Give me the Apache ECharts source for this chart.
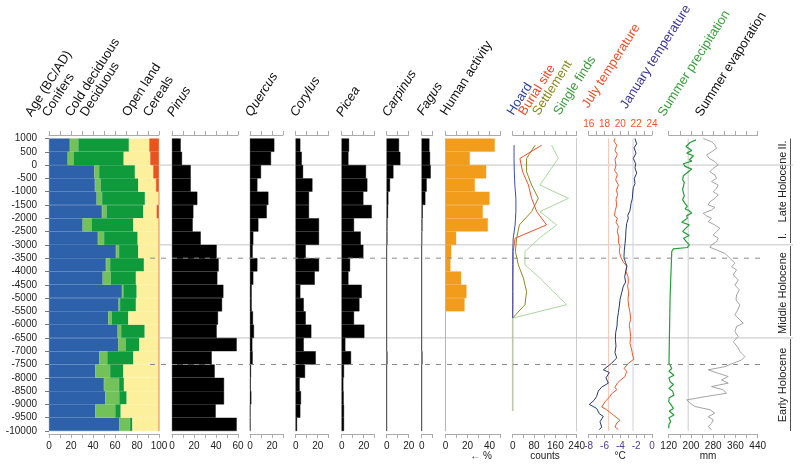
<!DOCTYPE html>
<html><head><meta charset="utf-8">
<script src="https://cdn.jsdelivr.net/npm/echarts@6/dist/echarts.min.js"></script>
<style>html,body{margin:0;padding:0;background:#fff}#c{width:800px;height:468px}</style>
</head><body><div id="c"></div><script>
// ---------------- DATA ----------------
const binAges = ['1000','500','0','-500','-1000','-1500','-2000','-2500','-3000','-3500','-4000','-4500','-5000','-5500','-6000','-6500','-7000','-7500','-8000','-8500','-9000','-9500'];
const conifers      = [19, 17, 41.2, 41.8, 43.3, 48.2, 30.6, 44.5, 60.9, 51.8, 48.8, 66.4, 63.3, 53.9, 62.4, 63, 45.8, 42.1, 50, 51.2, 42.1, 64];
const coldDeciduous = [7.7, 5.4, 4.3, 5.2, 4.9, 4.2, 8.2, 5.5, 2.7, 3.7, 7.3, 1.2, 1.2, 3.1, 3.1, 6.7, 7.2, 13.4, 13.6, 12.7, 18.2, 9.6];
const deciduous     = [46, 45.5, 32.7, 34.2, 39.1, 33.4, 37.9, 30.6, 17.6, 30.9, 23, 12.1, 14.6, 15.1, 21.5, 12.4, 23.7, 12.1, 4.6, 6.7, 4.9, 2.2];
const openLand      = [18.5, 24.2, 16.6, 16.1, 12.7, 12.1, 23.3, 19.4, 18.8, 13.6, 20.9, 20.3, 20.9, 27.9, 13, 17.9, 23.3, 32.4, 31.8, 29.4, 34.8, 24.2];
const cereals       = [8.8, 7.9, 5.2, 2.7, 0, 2.1, 0, 0, 0, 0, 0, 0, 0, 0, 0, 0, 0, 0, 0, 0, 0, 0];
const pinus    = [7.9, 9.1, 17, 17, 23, 19.4, 18.8, 26.1, 40.6, 42.4, 41.2, 46.7, 45.5, 41.8, 40.6, 58.8, 36.1, 38.8, 47.3, 47.3, 39.7, 58.8];
const quercus  = [22.1, 19.1, 10, 6.7, 16.7, 15.2, 7.6, 3, 2.4, 6.7, 3, 1.5, 1.5, 2.7, 3.6, 2.1, 2.4, 0.9, 0.6, 1.2, 0.3, 0.3];
const corylus  = [4.2, 5.5, 6.7, 15.2, 12.1, 12.1, 21.2, 21.2, 9.1, 21.2, 17.3, 4.2, 7.3, 9.1, 14.2, 7.3, 18.2, 8.5, 3.6, 4.8, 4.2, 1.2];
const picea    = [6.7, 6.1, 22.1, 23.3, 19.7, 27.3, 11.2, 17.3, 19.7, 7.6, 6.1, 18.2, 16.1, 11.2, 20.6, 3.3, 8.5, 2.1, 1.5, 1.8, 2.1, 2.1];
const carpinus = [11.2, 12.4, 6.1, 3, 1.5, 1.2, 0.6, 0.6, 0, 0, 0, 0, 0, 0, 0, 0, 0.6, 0, 0, 0, 0, 0];
const fagus    = [7, 7.6, 8.2, 4.5, 3.3, 0.9, 0.6, 0.3, 0, 0, 0, 0, 0, 0, 0, 0, 0.6, 0, 0, 0, 0, 0];
const humanActivity = [44.8, 22.1, 37, 26.7, 40, 33.9, 38.5, 9.7, 5.2, 4.5, 14.2, 19.1, 17.3, 0, 0, 0, 0, 0, 0, 0, 0, 0];

const countAges   = [750, 250, -250, -750, -1250, -1750, -2250, -2750, -3250, -3750, -4250, -4750, -5250, -5750];
const hoard       = [5, 5, 6, 8, 12, 12, 9, 2, 0, 0, 0, 0, 0, 0];
const burialSite  = [109, 27, 37, 59, 71, 90, 127, 9, 2, 2, 1, 1, 1, 0];
const settlement  = [84, 52, 52, 71, 96, 71, 25, 15, 10, 21, 40, 52, 46, 0];
const singleFinds = [146, 171, 136, 102, 209, 102, 165, 100, 46, 46, 102, 152, 202, 2];
const noFindsAges = [-5750, -9250];
const noFinds     = [0, 0];

const janAges = [1000, 800, 650, 450, 250, 50, -100, -300, -500, -700, -850, -1050, -1250, -1450, -1700, -1900, -2000, -2200, -2450, -2700, -2950, -3200, -3450, -3650, -3800, -3950, -4200, -4400, -4550, -4800, -5050, -5300, -5550, -5800, -6050, -6300, -6550, -6800, -7050, -7250, -7450, -7550, -7700, -7800, -8000, -8200, -8350, -8500, -8700, -8850, -9000, -9150, -9350, -9450, -9650, -9850, -9950];
const janTemp = [-2.15, -1.94, -2.27, -2.02, -2.36, -2.06, -2.15, -1.94, -2.23, -2.15, -2.36, -2.44, -2.48, -2.65, -2.78, -3.07, -2.99, -3.2, -3.29, -3.33, -3.41, -3.5, -3.54, -3.37, -3.16, -3.29, -3.45, -3.33, -3.62, -3.83, -4.04, -4.13, -4.25, -4.38, -4.42, -4.59, -4.63, -4.55, -4.68, -4.46, -5.1, -5.52, -6.15, -5.39, -5.81, -5.52, -6.36, -6.79, -7.0, -7.33, -7.92, -7.0, -6.66, -6.15, -6.57, -6.36, -6.66];
const julyAges = [1000, 900, 750, 550, 400, 200, 0, -200, -350, -550, -750, -950, -1100, -1300, -1500, -1700, -1900, -2000, -2150, -2300, -2500, -2700, -2900, -3050, -3250, -3450, -3650, -3800, -4000, -4200, -4400, -4550, -4800, -5050, -5300, -5550, -5800, -6000, -6200, -6450, -6700, -6950, -7150, -7300, -7450, -7650, -7750, -7950, -8100, -8200, -8350, -8450, -8600, -8700, -8900, -9100, -9200, -9350, -9450, -9600, -9700, -9850, -9950];
const julyTemp = [19.32, 19.2, 19.54, 19.32, 19.62, 19.32, 19.45, 19.28, 19.62, 19.41, 19.75, 19.49, 19.66, 19.45, 19.54, 19.37, 19.24, 19.62, 19.45, 19.75, 19.62, 19.79, 19.75, 19.96, 19.87, 20.04, 20.38, 20.8, 20.71, 20.97, 21.01, 20.92, 21.05, 20.97, 21.05, 21.22, 21.3, 21.13, 21.22, 21.3, 21.22, 21.43, 21.55, 21.72, 21.01, 20.46, 20.8, 20.59, 19.96, 19.62, 19.32, 19.54, 18.9, 18.69, 18.06, 17.64, 18.27, 18.9, 19.32, 19.96, 19.54, 19.32, 19.75];
const julyRef = 18.5;
const janRef = -2.4;

const precipAges = [950, 850, 700, 650, 550, 450, 350, 200, 150, 50, -50, -150, -300, -400, -550, -650, -800, -900, -1050, -1150, -1300, -1450, -1550, -1650, -1700, -1800, -1900, -2000, -2150, -2250, -2400, -2500, -2650, -2750, -2900, -3000, -3100, -3150, -3250, -4950, -7450, -7500, -7650, -7750, -7900, -8000, -8150, -8250, -8400, -8500, -8650, -8750, -8900, -9000, -9150, -9250, -9400, -9500, -9650, -9750, -9900];
const summerPrecip = [218, 197, 182, 187, 203, 185, 209, 194, 203, 173, 179, 203, 185, 173, 170, 176, 173, 170, 173, 176, 170, 179, 187, 179, 191, 203, 185, 187, 167, 194, 179, 170, 194, 173, 185, 194, 187, 137, 131, 125, 121, 122, 131, 121, 139, 121, 125, 137, 121, 134, 139, 122, 120, 127, 137, 122, 139, 121, 127, 121, 120];
const evapAges = [1000, 880, 760, 630, 500, 380, 250, 130, 0, -120, -250, -370, -500, -620, -750, -870, -1000, -1120, -1250, -1380, -1500, -1590, -1690, -1810, -1910, -2000, -2130, -2250, -2380, -2500, -2630, -2750, -2880, -3000, -3090, -3190, -3320, -3500, -3690, -3820, -3940, -4130, -4320, -4510, -4690, -4880, -5070, -5260, -5450, -5630, -5820, -5950, -6070, -6260, -6450, -6640, -6830, -7010, -7200, -7330, -7450, -7580, -7700, -7830, -7950, -8080, -8200, -8330, -8450, -8580, -8700, -8830, -8950, -9080, -9200, -9330, -9460, -9580, -9710, -9830, -9960];
const summerEvap = [244, 274, 286, 292, 274, 256, 266, 286, 298, 280, 268, 286, 292, 274, 298, 292, 280, 298, 286, 268, 262, 286, 274, 244, 256, 274, 262, 286, 304, 292, 280, 298, 292, 274, 268, 292, 322, 340, 358, 346, 364, 352, 370, 358, 374, 364, 362, 376, 368, 358, 376, 388, 364, 358, 370, 352, 367, 376, 394, 382, 352, 322, 262, 298, 334, 310, 334, 274, 316, 328, 256, 185, 197, 215, 268, 286, 262, 280, 274, 262, 274];
const precipRef = 190;

const refSolidAges = [0, -3000, -6500];
const refDashedAges = [-3500, -7500];

const headerTexts = ['Age (BC/AD)','Conifers','Cold deciduous','Deciduous','Open land','Cereals','Pinus','Quercus','Corylus','Picea','Carpinus','Fagus','Human activity','Hoard','Burial site','Settlement','Single finds','July temperature','January temperature','Summer precipitation','Summer evaporation'];
const periodTexts = ['II.', 'Late Holocene', 'I.', 'Middle Holocene', 'Early Holocene'];
const unitTexts = ['\u2190 %', 'counts', '\u00b0C', 'mm'];

// ---------------- LAYOUT / STYLE ----------------
const FONT = '"Liberation Sans", Arial, Helvetica, sans-serif';
const TOP = 138.5, H = 292.5;
const P = [
 {left:49, width:110, min:0, max:100, step:10, every:20},
 {left:172, width:66, min:0, max:60, step:10, every:20},
 {left:250, width:33, min:0, max:30, step:10, every:20},
 {left:295.7, width:33, min:0, max:30, step:10, every:20},
 {left:341.7, width:33, min:0, max:30, step:10, every:20},
 {left:386.7, width:22, min:0, max:20, step:10, every:20},
 {left:421.7, width:11, min:0, max:10, step:10, every:20},
 {left:445.5, width:55, min:0, max:50, step:10, every:20},
 {left:512.7, width:64, min:0, max:240, step:40, every:80},
 {left:588.7, width:63.3, min:-8, max:0, step:1, every:2, color:'#4a3d9c', top:{min:16, max:24, step:1, every:2, color:'#f0502a'}},
 {left:668.7, width:89, min:120, max:440, step:40, every:80},
];
const AX = '#aaaaaa';
const grids = [], xAxes = [], yAxes = [], series = [];
function fmt(min, every){ return v => (Math.round(v - min) % every === 0 ? String(v) : ''); }
P.forEach((p, i) => {
  grids.push({left:p.left, width:p.width, top:TOP, height:H, containLabel:false, outerBoundsMode:'none'});
  xAxes.push({type:'value', gridIndex:i, position:'bottom', offset:3, min:p.min, max:p.max, interval:p.step,
    axisLine:{show:true, onZero:false, lineStyle:{color:AX}}, axisTick:{show:true, length:4, lineStyle:{color:AX}},
    splitLine:{show:false}, axisLabel:{show:true, fontSize:10, fontFamily:FONT, color:p.color||'#222', margin:7, formatter:fmt(p.min,p.every), hideOverlap:false}});
  const t = p.top;
  xAxes.push({type:'value', gridIndex:i, position:'top', offset:3.5, min:t?t.min:p.min, max:t?t.max:p.max, interval:t?t.step:p.step,
    axisLine:{show:true, onZero:false, lineStyle:{color:AX}}, axisTick:{show:true, length:4, lineStyle:{color:AX}},
    splitLine:{show:false}, axisLabel:{show:!!t, fontSize:10, fontFamily:FONT, color:t?t.color:'#222', margin:6, formatter:t?fmt(t.min,t.every):undefined}});
  yAxes.push({type:'category', gridIndex:i, data:binAges, inverse:true, show:(i>=1 && i<=7),
    axisLine:{show:true, onZero:false, lineStyle:{color:'#cccccc'}}, axisTick:{show:false}, axisLabel:{show:false}, splitLine:{show:false}});
  if (i === 0) {
    yAxes.push({type:'value', gridIndex:i, min:-10000, max:1000, interval:500, position:'left', offset:5,
      axisLine:{show:false}, axisTick:{show:true, length:4, lineStyle:{color:'#777'}}, splitLine:{show:false},
      axisLabel:{fontSize:10, fontFamily:FONT, color:'#222', margin:7, formatter:v => String(v)}});
  } else {
    yAxes.push({type:'value', gridIndex:i, min:-10000, max:1000, interval:500, show:(i===8),
      axisLine:{show:true, onZero:false, lineStyle:{color:'#cccccc'}}, axisTick:{show:false}, axisLabel:{show:false}, splitLine:{show:false}});
  }
});
// reference line grids
grids.push({left:160, width:633, top:TOP, height:H, outerBoundsMode:'none'});
grids.push({left:150, width:616, top:TOP, height:H, outerBoundsMode:'none'});
xAxes.push({type:'value', gridIndex:11, min:0, max:1, show:false});
xAxes.push({type:'value', gridIndex:12, min:0, max:1, show:false});
yAxes.push({type:'value', gridIndex:11, min:-10000, max:1000, show:false});
yAxes.push({type:'value', gridIndex:12, min:-10000, max:1000, show:false});

refSolidAges.forEach(a => series.push({type:'line', xAxisIndex:22, yAxisIndex:22, data:[[0,a],[1,a]], symbol:'none', silent:true, z:1,
  lineStyle:{color:'#c4c4c4', width:1}}));
refDashedAges.forEach(a => series.push({type:'line', xAxisIndex:23, yAxisIndex:23, data:[[0,a],[1,a]], symbol:'none', silent:true, z:6,
  lineStyle:{color:'#8a8a8a', width:1, type:[5,6]}}));

// composition
[[ 'Conifers', conifers, '#2d62aa'], ['Cold deciduous', coldDeciduous, '#72c159'], ['Deciduous', deciduous, '#0f9a3b'], ['Open land', openLand, '#fcf09d'], ['Cereals', cereals, '#e8531f']]
 .forEach(([n, d, c]) => series.push({type:'bar', name:n, stack:'comp', xAxisIndex:0, yAxisIndex:0, data:d, barCategoryGap:'0%', silent:true, z:2,
   itemStyle:{color:c, borderColor:c, borderWidth:0.4}}));
// taxa
[[pinus,1],[quercus,2],[corylus,3],[picea,4],[carpinus,5],[fagus,6]].forEach(([d,i]) =>
  series.push({type:'bar', xAxisIndex:2*i, yAxisIndex:2*i, data:d, barCategoryGap:'0%', silent:true, z:2, itemStyle:{color:'#000', borderColor:'#000', borderWidth:0.4}}));
series.push({type:'bar', name:'Human activity', xAxisIndex:14, yAxisIndex:14, data:humanActivity, barCategoryGap:'0%', silent:true, z:2, itemStyle:{color:'#f29c1b', borderColor:'#f29c1b', borderWidth:0.4}});
// counts
const pairs = (ages, vals) => ages.map((a,k) => [vals[k], a]);
series.push({type:'line', xAxisIndex:16, yAxisIndex:17, data:pairs(noFindsAges, noFinds), symbol:'none', silent:true, z:3, lineStyle:{color:'#b8c8a8', width:1.6}});
[[singleFinds,'#a9d89c'],[settlement,'#8b8a1e'],[burialSite,'#f0522a'],[hoard,'#3a4db0']].forEach(([d,c]) =>
  series.push({type:'line', xAxisIndex:16, yAxisIndex:17, data:pairs(countAges, d), symbol:'none', silent:true, z:3, lineStyle:{color:c, width:1}}));
// temperature
series.push({type:'line', xAxisIndex:19, yAxisIndex:19, data:[[julyRef,1000],[julyRef,-10000]], symbol:'none', silent:true, z:2, lineStyle:{color:'#f9c8b8', width:1}});
series.push({type:'line', xAxisIndex:18, yAxisIndex:19, data:[[janRef,1000],[janRef,-10000]], symbol:'none', silent:true, z:2, lineStyle:{color:'#cfcfe0', width:1}});
series.push({type:'line', xAxisIndex:19, yAxisIndex:19, data:pairs(julyAges, julyTemp), symbol:'none', silent:true, z:3, lineStyle:{color:'#f0582c', width:1}});
series.push({type:'line', xAxisIndex:18, yAxisIndex:19, data:pairs(janAges, janTemp), symbol:'none', silent:true, z:3, lineStyle:{color:'#263a70', width:1}});
// precipitation / evaporation
series.push({type:'line', xAxisIndex:20, yAxisIndex:21, data:[[precipRef,1000],[precipRef,-10000]], symbol:'none', silent:true, z:2, lineStyle:{color:'#cccccc', width:1}});
series.push({type:'line', xAxisIndex:20, yAxisIndex:21, data:pairs(evapAges, summerEvap), symbol:'none', silent:true, z:3, lineStyle:{color:'#9a9a9a', width:0.9}});
series.push({type:'line', xAxisIndex:20, yAxisIndex:21, data:pairs(precipAges, summerPrecip), symbol:'none', silent:true, z:3, lineStyle:{color:'#22a035', width:1.2}});

// ---------------- TEXT DECORATIONS ----------------
const headerPos = [[30,121.7],[47,122],[70,121.7],[85,121.7],[127,121.7],[148,121.7],[172,121.7],[250,121.7],[295,121.7],[341,121.7],[387,121.7],[421.7,120.5],[445,120.7],[511.7,120.5],[523.3,120.7],[537.3,120.7],[558.3,120.5],[586.7,113.3],[625,114],[662.7,121.7],[700,121.7]];
const headerColors = ['#111','#111','#111','#111','#111','#111','#111','#111','#111','#111','#111','#111','#111','#2e3fa0','#f04b28','#8a8a1c','#3c9a3c','#f0502a','#3b3796','#3aa03c','#111'];
const italicIdx = [6,7,8,9,10,11];
const ANG = 57.5 * Math.PI / 180;
const SH = [4, -3];
const graphics = [];
headerTexts.forEach((t,k) => {
  const f = (italicIdx.includes(k) ? 'italic ' : '') + '13px ' + FONT;
  graphics.push({type:'text', x:headerPos[k][0]+SH[0], y:headerPos[k][1]+SH[1], rotation:ANG, silent:true,
    style:{text:t, font:f, fill:headerColors[k], align:'left', verticalAlign:'bottom', textAlign:'left', textVerticalAlign:'bottom'}});
});
const unitPos = [[481,456],[545,456],[620,456],[708,456]];
unitTexts.forEach((t,k) => graphics.push({type:'text', x:unitPos[k][0], y:unitPos[k][1], silent:true,
  style:{text:t, font:'10px '+FONT, fill:'#222', align:'center', verticalAlign:'middle', textAlign:'center', textVerticalAlign:'middle'}}));
const periodPos = [[783,145],[783,187],[783,236],[783,293],[783,385]];
periodTexts.forEach((t,k) => graphics.push({type:'text', x:periodPos[k][0], y:periodPos[k][1], rotation:Math.PI/2, silent:true,
  style:{text:t, font:'11px '+FONT, fill:'#222', align:'center', verticalAlign:'middle', textAlign:'center', textVerticalAlign:'middle'}}));
[[138.5,243],[246,336],[339,431]].forEach(([a,b]) => graphics.push({type:'line', silent:true, shape:{x1:790.5,y1:a,x2:790.5,y2:b}, style:{stroke:'#555', lineWidth:1}}));

const chart = echarts.init(document.getElementById('c'), null, {renderer:'canvas', width:800, height:468});
chart.setOption({animation:false, backgroundColor:'#fff', grid:grids, xAxis:xAxes, yAxis:yAxes, series:series, graphic:graphics});
</script></body></html>
